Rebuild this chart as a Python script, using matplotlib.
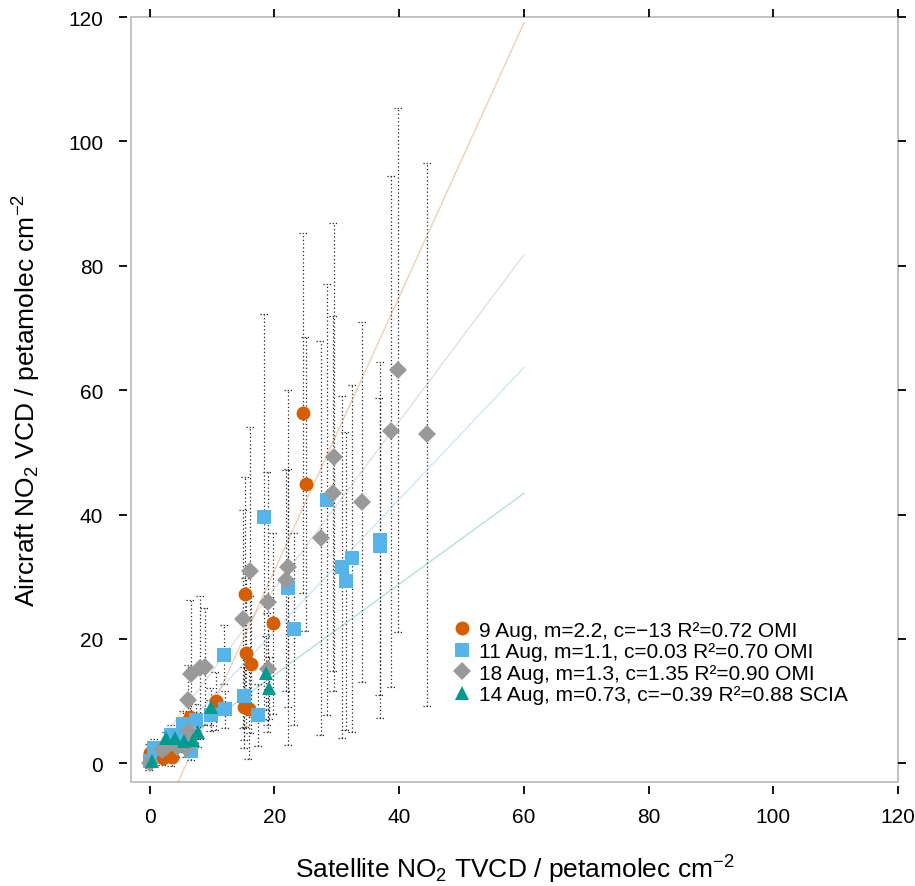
import matplotlib
matplotlib.use("Agg")
import matplotlib.pyplot as plt
from matplotlib.patches import Rectangle
import numpy as np

plt.rcParams['font.family'] = ['Liberation Sans', 'DejaVu Sans']
plt.rcParams['mathtext.fontset'] = 'custom'
plt.rcParams['mathtext.rm'] = 'Liberation Sans'
plt.rcParams['mathtext.it'] = 'Liberation Sans:italic'
plt.rcParams['mathtext.bf'] = 'Liberation Sans:bold'

# ---------------- data ----------------
# 9 Aug (OMI)
aug9_x = [24.6, 25.0, 15.3, 19.8, 15.4, 16.2, 10.6, 15.1, 15.9, 6.4, 5.1, 0.0, 2.1, 3.5]
aug9_y = [56.3, 44.9, 27.2, 22.5, 17.8, 15.9, 10.0, 9.0, 8.7, 7.5, 4.3, 1.6, 0.8, 1.1]
aug9_e = [28.9, 23.6, 18.9, 14.5, 12.0, 11.0, 4.7, 6.5, 8.0, 3.0, 2.5, 1.5, 1.0, 1.5]

# 11 Aug (OMI)
aug11_x = [18.4, 28.5, 22.2, 37.0, 36.9, 32.5, 30.9, 31.4, 11.9, 23.2, 15.2, 17.4,
           12.1, 9.8, 7.4, 5.4, 3.4, 0.7, 0.0, 6.7, 5.1]
aug11_y = [39.6, 42.4, 28.2, 35.9, 34.9, 33.0, 31.6, 29.3, 17.5, 21.6, 10.8, 7.8,
           8.7, 7.7, 7.0, 6.4, 4.6, 2.4, 0.3, 2.0, 4.0]
aug11_e = [32.6, 34.6, 19.1, 28.6, 23.9, 27.9, 27.5, 24.0, 4.7, 15.4, 7.0, 5.0,
           3.0, 2.5, 2.5, 2.0, 1.5, 1.5, 1.0, 1.5, 1.5]

# 18 Aug (OMI)
aug18_x = [39.8, 38.7, 44.5, 29.5, 29.4, 34.1, 27.4, 22.2, 21.9, 16.1, 18.9, 15.0,
           18.9, 6.6, 8.1, 8.8, 6.2, 6.3, 4.3, 5.9, 2.6, 1.9, 0.0]
aug18_y = [63.2, 53.4, 52.9, 49.3, 43.4, 42.0, 36.2, 31.5, 29.4, 30.9, 25.9, 23.2,
           15.2, 14.4, 15.4, 15.5, 10.2, 5.2, 2.6, 2.5, 2.6, 2.1, 0.0]
aug18_e = [42.1, 41.1, 43.7, 37.6, 28.6, 28.9, 31.7, 28.5, 17.8, 23.2, 20.9, 17.5,
           9.0, 11.9, 11.5, 9.4, 5.6, 3.0, 1.5, 1.5, 1.5, 1.5, 1.0]

# 14 Aug (SCIA)
aug14_x = [2.6, 4.0, 5.5, 7.0, 7.8, 9.8, 18.7, 19.2, 0.3]
aug14_y = [4.0, 4.1, 3.6, 3.8, 5.1, 9.1, 14.5, 12.1, 0.3]
aug14_e = [1.0, 1.5, 1.5, 2.0, 2.5, 3.0, 6.0, 5.0, 0.5]

# linear fits (slope, intercept) as drawn
fit_m = [2.2, 1.06, 1.34, 0.73]
fit_c = [-13.0, 0.03, 1.35, -0.39]
fit_x = [0, 60]

labels = ["9 Aug, m=2.2, c=\u221213 R\u00b2=0.72 OMI",
          "11 Aug, m=1.1, c=0.03 R\u00b2=0.70 OMI",
          "18 Aug, m=1.3, c=1.35 R\u00b2=0.90 OMI",
          "14 Aug, m=0.73, c=\u22120.39 R\u00b2=0.88 SCIA"]

ticks = [0, 20, 40, 60, 80, 100, 120]

colors = ["#D55E00", "#56B4E9", "#999999", "#009A8E"]
markers = ["o", "s", "D", "^"]
msizes = [10, 10, 9, 10]

series = [(aug9_x, aug9_y, aug9_e), (aug11_x, aug11_y, aug11_e),
          (aug18_x, aug18_y, aug18_e), (aug14_x, aug14_y, aug14_e)]

# ---------------- figure ----------------
fig = plt.figure(figsize=(9.15, 8.87), dpi=100)
ax = fig.add_axes([131/915, 1 - 783/887, (898-131)/915, (783-18)/887])
ax.set_xlim(-3, 120)
ax.set_ylim(-3, 120)

# error bars (dotted)
cap = 0.7
for (xs, ys, es) in series:
    xs = np.array(xs); ys = np.array(ys); es = np.array(es)
    ax.vlines(xs, ys - es, ys + es, colors="#222222", linestyles=(0, (1, 2)),
              linewidth=0.9, zorder=1)
    for yy in (ys - es, ys + es):
        ax.hlines(yy, xs - cap, xs + cap, colors="#222222", linestyles=(0, (1, 1.5)),
                  linewidth=0.9, zorder=1)

# fit lines
fx = np.array(fit_x, dtype=float)
for m, c, col in zip(fit_m, fit_c, colors):
    ax.plot(fx, m * fx + c, color=col, alpha=0.3, linewidth=1.0, zorder=2)

# points
order = [0, 1, 3, 2]
handles = [None] * 4
for i in order:
    xs, ys, es = series[i]
    h = ax.plot(xs, ys, linestyle="none", marker=markers[i], color=colors[i],
                markersize=msizes[i], markeredgewidth=0, zorder=3 + i * 0.1,
                label=labels[i])[0]
    handles[i] = h

leg = ax.legend(handles=handles, labels=labels, loc="upper left",
                bbox_to_anchor=(0.405, 0.222), frameon=False, fontsize=15,
                handletextpad=0.2, labelspacing=0.12, handlelength=1.2,
                borderaxespad=0)

# box & ticks
for s in ax.spines.values():
    s.set_visible(False)
ax.spines['left'].set_position(('outward', 3))
ax.spines['bottom'].set_position(('outward', 3))
ax.add_patch(Rectangle((0, 0), 1, 1, transform=ax.transAxes, fill=False,
                       edgecolor="#bdbdbd", linewidth=1.3, clip_on=False, zorder=0))

ax.set_xticks(ticks)
ax.set_yticks(ticks)
ax.tick_params(axis="both", which="both", direction="out", length=6, width=1.3,
               color="black", labelsize=15, top=True, right=True,
               labeltop=False, labelright=False)
ax.tick_params(axis="x", pad=9)
ax.tick_params(axis="y", pad=11)

ax.set_xlabel("Satellite NO$_2$ TVCD / petamolec cm$^{-2}$", fontsize=19, labelpad=19)
ax.set_ylabel("Aircraft NO$_2$ VCD / petamolec cm$^{-2}$", fontsize=19, labelpad=18)

fig.savefig("out.png", dpi=100)
